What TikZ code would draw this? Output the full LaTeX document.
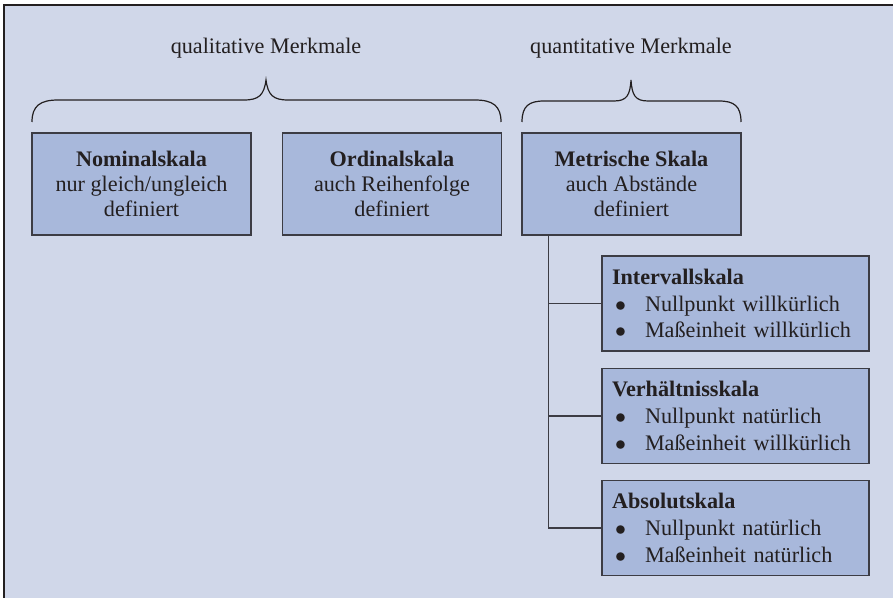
\documentclass[tikz,border=0pt]{standalone}
\usepackage{fontspec}
\setmainfont{Liberation Serif}
\usetikzlibrary{calc}
\definecolor{bgblue}{RGB}{208,215,233}
\definecolor{boxblue}{RGB}{168,184,219}
\definecolor{linegray}{RGB}{60,60,68}
\definecolor{txtgray}{RGB}{35,31,32}
\newcommand{\bul}{\hspace*{1.5pt}\makebox[15pt][l]{$\bullet$}}

\begin{document}
\begin{tikzpicture}[x=0.5pt,y=-0.5pt,
    scalebox/.style={draw=linegray,line width=0.75pt,fill=boxblue,minimum width=109.5pt,minimum height=51pt,
      align=center,text=txtgray,font=\fontsize{11.1}{12.5}\selectfont},
    subbox/.style={draw=linegray,line width=0.75pt,fill=boxblue,text width=123.5pt,inner xsep=5pt,
      minimum height=47.5pt,align=left,text=txtgray,font=\fontsize{11.1}{13.3}\selectfont},
    group/.style={text=txtgray,font=\fontsize{11.1}{12.5}\selectfont},
    brace/.style={draw=txtgray,line width=0.6pt},
    link/.style={draw=linegray,line width=0.75pt}]
  \useasboundingbox (0,0) rectangle (893,598);
  % background and frame (only top and left edge visible)
  \fill[bgblue] (4,5) rectangle (893,598);
  \draw[line width=1pt,txtgray] (4,598) -- (4,5) -- (893,5);

  % group labels
  \node[group] (qual) at (266,48) {qualitative Merkmale};
  \node[group] (quant) at (631,48) {quantitative Merkmale};

  % braces
  \draw[brace] (32,122) .. controls (32,106) and (40,100) .. (58,100) -- (244,100)
    .. controls (259,100) and (264,95) .. (266,80) .. controls (268,95) and (273,100) .. (288,100)
    -- (475,100) .. controls (493,100) and (501,106) .. (501,122);
  \draw[brace] (522,122) .. controls (522,106) and (529,101) .. (544,101) -- (614,101)
    .. controls (627,101) and (630,95) .. (631,80) .. controls (632,95) and (635,101) .. (648,101)
    -- (719,101) .. controls (734,101) and (741,106) .. (741,122);

  % main scales
  \node[scalebox] (nom) at (141.5,184) {\textbf{Nominalskala}\\nur gleich/ungleich\\definiert};
  \node[scalebox] (ord) at (392,184) {\textbf{Ordinalskala}\\auch Reihenfolge\\definiert};
  \node[scalebox] (met) at (631.5,184) {\textbf{Metrische Skala}\\auch Abstände\\definiert};

  % metric sub scales
  \node[subbox] (int) at (735.5,303.5) {\textbf{Intervallskala}\\\bul Nullpunkt willkürlich\\\bul Maßeinheit willkürlich};
  \node[subbox] (ver) at (735.5,416) {\textbf{Verhältnisskala}\\\bul Nullpunkt natürlich\\\bul Maßeinheit willkürlich};
  \node[subbox] (abs) at (735.5,528) {\textbf{Absolutskala}\\\bul Nullpunkt natürlich\\\bul Maßeinheit natürlich};

  \coordinate (trunk) at ($(met.south west)+(13.5pt,0)$);
  \draw[link] (trunk) |- (abs.west);
  \draw[link] (trunk |- int.west) -- (int.west);
  \draw[link] (trunk |- ver.west) -- (ver.west);
\end{tikzpicture}
\end{document}
